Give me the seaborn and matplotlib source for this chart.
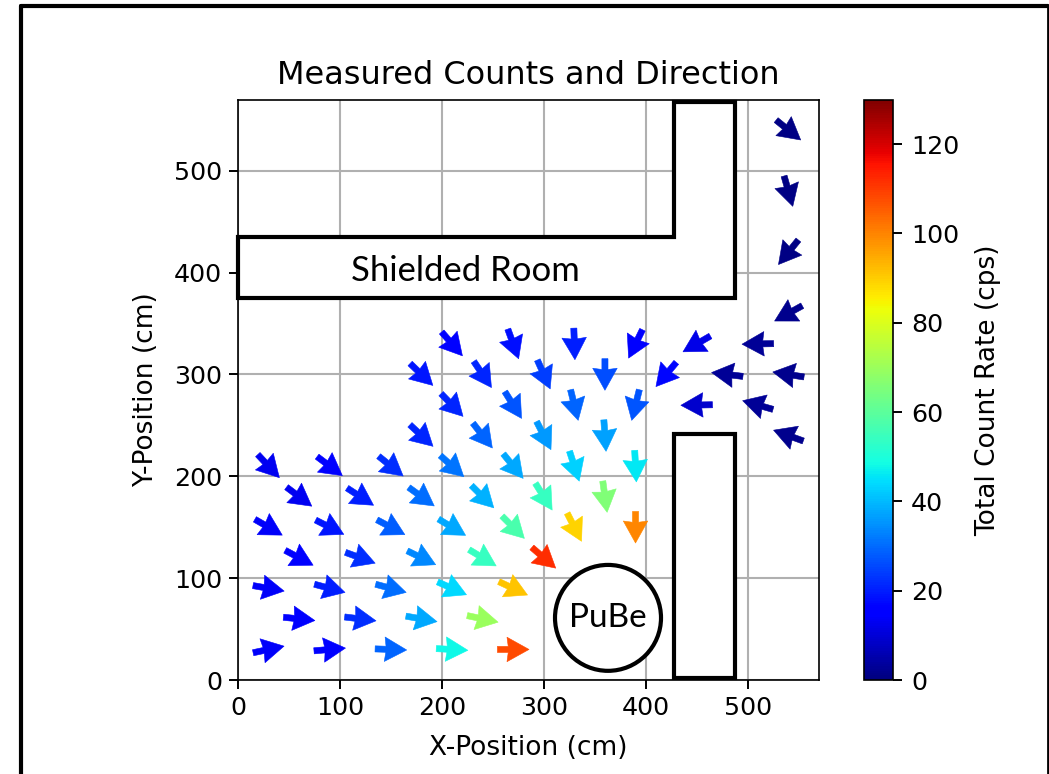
import numpy as np
import matplotlib
matplotlib.use("Agg")
import matplotlib.pyplot as plt
from matplotlib.patches import Polygon, Rectangle, Circle
from matplotlib.lines import Line2D
import seaborn as sns

# ---- data ----
x_pos = [30, 90, 150, 210, 270,
         60, 120, 180, 240,
         30, 90, 150, 210, 270,
         60, 120, 180, 240, 300,
         30, 90, 150, 210, 270, 330, 390,
         60, 120, 180, 240, 300, 360,
         30, 90, 150, 210, 270, 330, 390,
         180, 240, 300, 360, 540,
         210, 270, 330, 390, 450, 510,
         180, 240, 300, 360, 420, 480, 540,
         210, 270, 330, 390, 450, 510,
         540, 540, 540, 540]
y_pos = [30]*5 + [60]*4 + [90]*5 + [120]*5 + [150]*7 + [180]*6 + [210]*7 + \
        [240]*5 + [270]*6 + [300]*7 + [330]*6 + [360, 420, 480, 540]
angle_deg = [12, 5, -2, -3, 0,
             -6, -7, -10, -12,
             -10, -15, -15, -24, -25,
             -28, -20, -26, -31, -41,
             -30, -27, -28, -31, -45, -63, -90,
             -37, -33, -36, -45, -58, -82,
             -47, -37, -39, -42, -51, -72, -87,
             -43, -52, -63, -86, 160,
             -46, -58, -76, -104, 181, 164,
             -44, -56, -66, -90, -130, 173, 171,
             -49, -70, -88, -116, 210, 181,
             209, 231, -74, -39]
counts = [14, 16, 29, 48, 108,
          15, 22, 38, 70,
          14, 20, 30, 44, 91,
          16, 22, 34, 54, 112,
          14, 19, 28, 38, 57, 89, 100,
          13, 20, 30, 39, 54, 66,
          13, 16, 22, 31, 38, 43, 46,
          21, 29, 36, 37, 2,
          21, 27, 29, 27, 9, 3,
          19, 21, 24, 26, 17, 3, 2,
          16, 18, 20, 16, 12, 3,
          2, 1, 1, 1]
arrow_length = 31.0
room_x = [0, 488, 488, 428, 428, 0]
room_y = [375, 375, 568, 568, 435, 435]
wall_x, wall_y, wall_w, wall_h = 428, 2, 60, 240
source_x, source_y, source_r = 363, 61, 52
x_ticks = [0, 100, 200, 300, 400, 500]
y_ticks = [0, 100, 200, 300, 400, 500]
cbar_ticks = [0, 20, 40, 60, 80, 100, 120]

sns.set_theme(style="ticks", rc={"font.family": ["DejaVu Sans"], "axes.grid": True,
                                 "grid.color": "#b0b0b0", "grid.linewidth": 1.5,
                                 "axes.edgecolor": "black", "text.color": "black",
                                 "axes.labelcolor": "black", "xtick.color": "black",
                                 "ytick.color": "black"})
W, H = 1049, 774
fig = plt.figure(figsize=(W/100, H/100), dpi=100, facecolor="white")

def px_axes(l, t, r, b):
    return fig.add_axes([l/W, 1-b/H, (r-l)/W, (b-t)/H])

ax = px_axes(238, 99.5, 819, 680)
ax.set_xlim(0, 570)
ax.set_ylim(0, 570)
ax.set_axisbelow(True)

cmap = matplotlib.colormaps["jet"]
ang = np.radians(angle_deg)
u = arrow_length*np.cos(ang)
v = arrow_length*np.sin(ang)
q = ax.quiver(x_pos, y_pos, u, v, counts, cmap=cmap, clim=(0, 130), pivot="mid",
              angles="xy", scale_units="xy", scale=1, units="xy", width=6,
              headwidth=4.0, headlength=3.6, headaxislength=3.4, minlength=0,
              edgecolor="face", linewidth=0.4, zorder=3)

ax.add_patch(Polygon(np.column_stack([room_x, room_y]), closed=True, fc="white", ec="black", lw=3, zorder=4, clip_on=False))
ax.add_patch(Rectangle((wall_x, wall_y), wall_w, wall_h, fc="white", ec="black", lw=3, zorder=4))
ax.add_patch(Circle((source_x, source_y), source_r, fc="white", ec="black", lw=3, zorder=4))
ax.text(223.5, 402, "Shielded Room", family="Lato", fontsize=24.9, ha="center", va="center", zorder=5)
ax.text(source_x, source_y, "PuBe", family="Lato", fontsize=24, ha="center", va="center", zorder=5)

ax.set_xticks(x_ticks)
ax.set_yticks(y_ticks)
ax.tick_params(length=6.5, width=1.4, labelsize=18.3, pad=5)
for s in ax.spines.values():
    s.set_linewidth(1.2)
ax.set_title("Measured Counts and Direction", fontsize=23, pad=11)
ax.set_xlabel("X-Position (cm)", fontsize=19, labelpad=11)
ax.set_ylabel("Y-Position (cm)", fontsize=19, labelpad=11)

cax = px_axes(864, 99.5, 892.5, 680)
cb = fig.colorbar(q, cax=cax)
cb.set_ticks(cbar_ticks)
cb.ax.tick_params(length=6.5, width=1.4, labelsize=18.3, pad=7)
cb.outline.set_linewidth(1.2)
cb.set_label("Total Count Rate (cps)", fontsize=19, labelpad=11)

# slide frame: left, top and right only
for xs, ys, lw in [([21/W, 21/W], [0, 1-5.5/H], 3.0),
                   ([21/W, 1048/W], [1-5.5/H, 1-5.5/H], 3.0),
                   ([1048/W, 1048/W], [0, 1-5.5/H], 2.0)]:
    fig.add_artist(Line2D(xs, ys, color="black", lw=lw, transform=fig.transFigure))

fig.savefig("out.png", dpi=100)
